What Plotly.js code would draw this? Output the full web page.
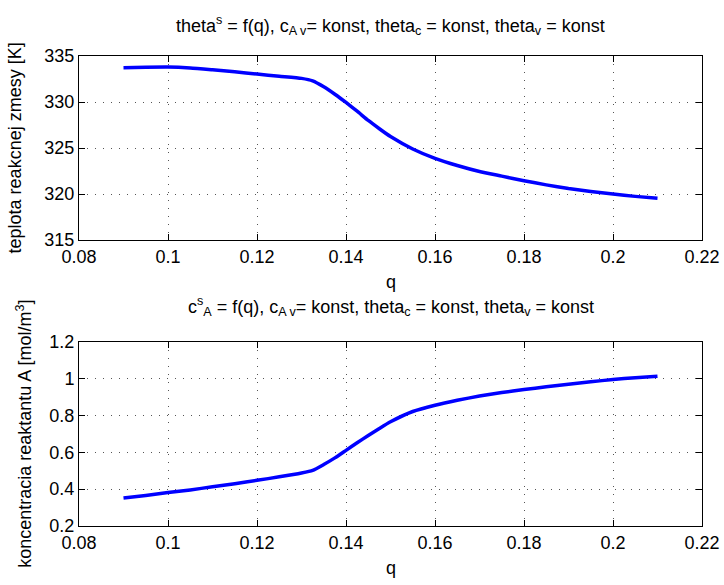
<!DOCTYPE html>
<html>
<head>
<meta charset="utf-8">
<script src="https://cdn.plot.ly/plotly-3.0.1.min.js"></script>
<style>html,body{margin:0;padding:0;background:#fff;}#chart{width:724px;height:585px;}</style>
</head>
<body>
<div id="chart"></div>
<script>
// q values
var q = [0.09, 0.095, 0.10, 0.105, 0.11, 0.115, 0.12, 0.125, 0.13, 0.1325, 0.135, 0.1375,
         0.14, 0.1425, 0.145, 0.1475, 0.15, 0.155, 0.16, 0.165, 0.17, 0.175, 0.18, 0.185,
         0.19, 0.195, 0.20, 0.205, 0.21];
// steady-state temperature of reaction mixture theta^s [K]
var thetaS = [333.73, 333.78, 333.80, 333.70, 333.50, 333.28, 333.04, 332.80, 332.57, 332.30, 331.66, 330.85,
              329.95, 329.00, 328.00, 327.10, 326.25, 324.90, 323.88, 323.10, 322.45, 321.95, 321.45, 321.00,
              320.60, 320.28, 320.00, 319.75, 319.55];
// steady-state concentration of reactant A, c_A^s [mol/m^3]
var cAS = [0.352, 0.366, 0.3815, 0.396, 0.413, 0.430, 0.448, 0.467, 0.488, 0.502, 0.534, 0.570,
           0.611, 0.652, 0.692, 0.730, 0.766, 0.822, 0.856, 0.883, 0.906, 0.925, 0.941, 0.956,
           0.970, 0.983, 0.996, 1.005, 1.014];

var xTicks = [0.08, 0.1, 0.12, 0.14, 0.16, 0.18, 0.2, 0.22];
var xTickText = ['0.08', '0.1', '0.12', '0.14', '0.16', '0.18', '0.2', '0.22'];
var y1Ticks = [315, 320, 325, 330, 335];
var y2Ticks = [0.2, 0.4, 0.6, 0.8, 1, 1.2];
var y2TickText = ['0.2', '0.4', '0.6', '0.8', '1', '1.2'];

var title1 = 'theta<sup>s</sup> = f(q), c<sub>A v</sub>= konst, theta<sub>c</sub> = konst, theta<sub>v</sub> = konst';
var title2 = 'c<sup>s</sup><sub>A</sub> = f(q), c<sub>A v</sub>= konst, theta<sub>c</sub> = konst, theta<sub>v</sub> = konst';
var xLabel = 'q';
var yLabel1 = 'teplota reakcnej zmesy [K]';
var yLabel2 = 'koncentracia reaktantu A [mol/m<sup>3</sup>]';

var FONT = 'Liberation Sans, Arial, Helvetica, sans-serif';
var TXT = {family: FONT, size: 18, color: '#000'};
var lineStyle = {color: '#0000FF', width: 3.5, shape: 'spline', smoothing: 0.5};

var traces = [
  {x: q, y: thetaS, xaxis: 'x', yaxis: 'y', mode: 'lines', line: lineStyle, hoverinfo: 'skip'},
  {x: q, y: cAS, xaxis: 'x2', yaxis: 'y2', mode: 'lines', line: lineStyle, hoverinfo: 'skip'}
];

function common() {
  return {
    ticks: 'inside', ticklen: 6, tickcolor: '#000', tickwidth: 1,
    showline: true, linecolor: '#000', linewidth: 1, mirror: 'ticks',
    showgrid: true, gridcolor: '#555', griddash: '1px,7px', gridwidth: 1,
    zeroline: false, tickfont: TXT, tickmode: 'array'
  };
}
function xa(anchor) {
  var o = common();
  o.anchor = anchor; o.domain = [0, 1]; o.range = [0.08, 0.22];
  o.tickvals = xTicks; o.ticktext = xTickText;
  return o;
}
function ya(anchor, domain, range, tv, tt) {
  var o = common();
  o.anchor = anchor; o.domain = domain; o.range = range; o.tickvals = tv;
  if (tt) o.ticktext = tt;
  return o;
}

function ann(text, x, y, xanchor, yanchor, angle) {
  return {text: text, xref: 'paper', yref: 'paper', x: x, y: y, xanchor: xanchor, yanchor: yanchor,
          textangle: angle || 0, showarrow: false, font: TXT};
}

var layout = {
  width: 724, height: 585,
  paper_bgcolor: '#fff', plot_bgcolor: '#fff',
  margin: {l: 78.7, r: 22, t: 56, b: 59.3},
  showlegend: false,
  font: TXT,
  xaxis: xa('y'),
  yaxis: ya('x', [0.6083, 1], [315, 335], y1Ticks, null),
  xaxis2: xa('y2'),
  yaxis2: ya('x2', [0, 0.3917], [0.2, 1.2], y2Ticks, y2TickText),
  annotations: [
    ann(title1, 0.5, 1.0655, 'center', 'middle'),
    ann(title2, 0.5, 0.4661, 'center', 'middle'),
    ann(xLabel, 0.5, 0.545, 'center', 'top'),
    ann(xLabel, 0.5, -0.0632, 'center', 'top'),
    ann(yLabel1, -0.0829, 0.8041, 'right', 'middle', -90),
    ann(yLabel2, -0.0653, 0.1959, 'right', 'middle', -90)
  ]
};

Plotly.newPlot('chart', traces, layout, {staticPlot: true, displayModeBar: false});
</script>
</body>
</html>
